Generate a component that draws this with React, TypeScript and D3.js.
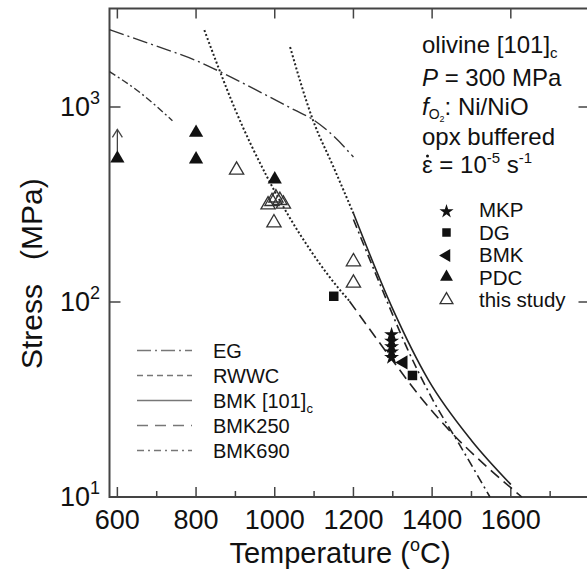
import React from 'react';
import * as d3 from 'd3';

// ---------- data ----------
const xTicks = [600, 800, 1000, 1200, 1400, 1600, 1800];
const xMinorTicks = [700, 900, 1100, 1300, 1500, 1700];
const yTicks = [10, 100, 1000];
const yTickExps = ['1', '2', '3'];

// curves: [temperature °C, stress MPa]
const egCurve: [number, number][] = [[580, 2490], [700, 2050], [800, 1730], [861, 1517], [950, 1230], [1050, 966], [1100, 855], [1150, 708], [1200, 554]];
const rwwcCurve: [number, number][] = [[580, 1520], [660, 1175], [740, 850]];
const bmkCExtrap: [number, number][] = [[1039, 2030], [1097, 858], [1149, 494], [1200, 285]];
const bmkCCurve: [number, number][] = [[1200, 285], [1300, 92], [1390, 40], [1500, 19.5], [1600, 11.6]];
const bmk250Extrap: [number, number][] = [[821, 2480], [861, 1517], [900, 965], [980, 440], [1090, 185], [1141, 133], [1190, 101]];
const bmk250Curve: [number, number][] = [[1190, 101], [1300, 50], [1370, 32.6], [1450, 21.3], [1539, 14.3], [1628, 10]];
const bmk690Curve: [number, number][] = [[1200, 265], [1270, 120], [1338, 57], [1402, 31.4], [1470, 18.5], [1547, 10]];

const mkpPoints: [number, number][] = [[1297, 68], [1297, 63], [1297, 59], [1297, 55.5], [1297, 52]];
const dgPoints: [number, number][] = [[1150, 107], [1350, 42]];
const bmkPoints: [number, number][] = [[1327, 49]];
const pdcPoints: [number, number][] = [[600, 545], [800, 738], [800, 539], [1000, 426]];
const studyPoints: [number, number][] = [[903, 475], [983, 315], [993, 328], [1003, 342], [1013, 332], [1022, 318], [998, 255], [1200, 161], [1200, 125]];

const infoLines = ['olivine [101]', 'P = 300 MPa', 'fO2: Ni/NiO', 'opx buffered', 'ε = 10-5 s-1'];
const markerLegend = ['MKP', 'DG', 'BMK', 'PDC', 'this study'];
const lineLegend = ['EG', 'RWWC', 'BMK [101]', 'BMK250', 'BMK690'];

// ---------- layout ----------
const W = 587, H = 573;
const FONT = '"Liberation Sans", Arial, Helvetica, sans-serif';
const INK = '#111';
const AX = '#444';

export default function App() {
  const x = d3.scaleLinear().domain([580, 1800]).range([109.5, 589.5]);
  const y = d3.scaleLog().domain([10, 3200]).range([497, 8.5]);
  const [x0, x1] = x.range();
  const [yb, yt] = y.range();

  const line = d3.line<[number, number]>()
    .x(d => x(d[0]))
    .y(d => y(d[1]))
    .curve(d3.curveMonotoneX);

  const sym = (type: d3.SymbolType, size: number) => d3.symbol().type(type).size(size)() as string;
  const tri = sym(d3.symbolTriangle, 88);
  const triSmall = sym(d3.symbolTriangle, 72);
  const sq = sym(d3.symbolSquare, 90);
  const sqSmall = sym(d3.symbolSquare, 72);
  const star = sym(d3.symbolStar, 70);
  const starSmall = sym(d3.symbolStar, 62);

  const curveStyles = [
    { data: egCurve, dash: '15,4,2,4', w: 1.4, color: '#333' },
    { data: rwwcCurve, dash: '7,3,2,3', w: 1.4, color: '#333' },
    { data: bmkCExtrap, dash: '2,2.2', w: 2, color: '#222' },
    { data: bmkCCurve, dash: null, w: 1.6, color: '#222' },
    { data: bmk250Extrap, dash: '2,2.2', w: 2, color: '#222' },
    { data: bmk250Curve, dash: '11,6', w: 1.6, color: '#222' },
    { data: bmk690Curve, dash: '9,4,2,4', w: 1.6, color: '#222' },
  ];

  const legendDash = ['14,4,2,4', '6,4', null, '11,7', '7,4,2,4'];
  const legendRowsY = [350.5, 375.5, 400.5, 425.5, 450.5];
  const mlegBase = [217, 239.5, 262, 284.5, 307];
  const mlegMark = [211.5, 232.5, 255.5, 277, 300];
  const infoY = [53, 86, 115, 145, 173];
  const IX = 422;

  return (
    <svg width={W} height={H} style={{ position: 'absolute', left: 0, top: 0, background: '#fff' }} fontFamily={FONT}>
      <rect x={0} y={0} width={W} height={H} fill="#fff" />
      {/* frame */}
      <rect x={x0} y={yt} width={x1 - x0} height={yb - yt} fill="none" stroke={AX} strokeWidth={2} />
      {/* x ticks */}
      {xTicks.map(t => (
        <g key={'xt' + t}>
          <line x1={x(t)} x2={x(t)} y1={yb} y2={yb - 10} stroke={AX} strokeWidth={1.5} />
          <line x1={x(t)} x2={x(t)} y1={yt} y2={yt + 10} stroke={AX} strokeWidth={1.5} />
        </g>
      ))}
      {xMinorTicks.map(t => (
        <line key={'xm' + t} x1={x(t)} x2={x(t)} y1={yb} y2={yb - 6} stroke={AX} strokeWidth={1.5} />
      ))}
      {xTicks.filter(t => t <= 1600).map(t => (
        <text key={'xl' + t} x={x(t)} y={yb + 32} textAnchor="middle" fontSize={27} fill={INK}>{t}</text>
      ))}
      {/* y ticks */}
      {yTicks.map((t, i) => (
        <g key={'yt' + t}>
          <line x1={x0} x2={x0 + 11} y1={y(t)} y2={y(t)} stroke={AX} strokeWidth={1.5} />
          <line x1={x1} x2={x1 - 11} y1={y(t)} y2={y(t)} stroke={AX} strokeWidth={1.5} />
          <text x={100} y={y(t) + 9} textAnchor="end" fontSize={27} fill={INK}>
            10<tspan dy={-12} fontSize={18}>{yTickExps[i]}</tspan>
          </text>
        </g>
      ))}
      {/* axis titles */}
      <text x={340} y={563} textAnchor="middle" fontSize={29} fill={INK}>
        Temperature (<tspan dy={-12} fontSize={18}>o</tspan><tspan dy={12}>C)</tspan>
      </text>
      <g transform="translate(42,272) rotate(-90)" fontSize={30} fill={INK}>
        <text x={-12} y={0} textAnchor="end">Stress</text>
        <text x={12} y={0} textAnchor="start">(MPa)</text>
      </g>

      {/* curves */}
      {curveStyles.map((c, i) => (
        <path key={'c' + i} d={line(c.data) as string} fill="none" stroke={c.color} strokeWidth={c.w}
          strokeDasharray={c.dash ?? undefined} />
      ))}

      {/* arrow on PDC 600 */}
      <g stroke="#444" strokeWidth={1.3} fill="none">
        <line x1={x(600)} x2={x(600)} y1={y(545) - 7} y2={y(545) - 29} />
        <polyline points={`${x(600) - 5},${y(545) - 21} ${x(600)},${y(545) - 29} ${x(600) + 5},${y(545) - 21}`} />
      </g>

      {/* markers */}
      {pdcPoints.map((p, i) => (
        <path key={'pdc' + i} d={tri} transform={`translate(${x(p[0])},${y(p[1])})`} fill={INK} />
      ))}
      {studyPoints.map((p, i) => (
        <path key={'st' + i} d={tri} transform={`translate(${x(p[0])},${y(p[1])})`} fill="none" stroke="#333" strokeWidth={1.3} />
      ))}
      {mkpPoints.map((p, i) => (
        <path key={'mkp' + i} d={star} transform={`translate(${x(p[0])},${y(p[1])})`} fill={INK} />
      ))}
      {dgPoints.map((p, i) => (
        <path key={'dg' + i} d={sq} transform={`translate(${x(p[0])},${y(p[1])})`} fill={INK} />
      ))}
      {bmkPoints.map((p, i) => (
        <path key={'bmk' + i} d={tri} transform={`translate(${x(p[0])},${y(p[1])}) rotate(-90)`} fill={INK} />
      ))}

      {/* info text */}
      <g fontSize={24} fill={INK}>
        <text x={IX} y={infoY[0]}>{infoLines[0]}<tspan dy={5} fontSize={15}>c</tspan></text>
        <text x={IX} y={infoY[1]}><tspan fontStyle="italic">P</tspan>{infoLines[1].slice(1)}</text>
        <text x={IX} y={infoY[2]}>
          <tspan fontStyle="italic">f</tspan><tspan dy={4} fontSize={14}>O</tspan><tspan dy={3} fontSize={9}>2</tspan><tspan dy={-7}>: Ni/NiO</tspan>
        </text>
        <text x={IX} y={infoY[3]}>{infoLines[3]}</text>
        <text x={IX} y={infoY[4]}>
          {infoLines[4].slice(0, 6)}<tspan dy={-10} fontSize={15}>-5</tspan><tspan dy={10}> s</tspan><tspan dy={-10} fontSize={15}>-1</tspan>
        </text>
        <circle cx={IX + 5.5} cy={infoY[4] - 17} r={1.5} />
      </g>

      {/* marker legend */}
      <g fill={INK}>
        <path d={starSmall} transform={`translate(446.5,${mlegMark[0]})`} />
        <path d={sqSmall} transform={`translate(446.5,${mlegMark[1]})`} />
        <path d={triSmall} transform={`translate(446.5,${mlegMark[2]}) rotate(-90)`} />
        <path d={triSmall} transform={`translate(446.5,${mlegMark[3]})`} />
        <path d={triSmall} transform={`translate(446.5,${mlegMark[4]})`} fill="none" stroke="#333" strokeWidth={1.3} />
        {markerLegend.map((t, i) => (
          <text key={'ml' + i} x={479} y={mlegBase[i]} fontSize={20.5}>{t}</text>
        ))}
      </g>

      {/* line legend */}
      {lineLegend.map((t, i) => (
        <g key={'ll' + i}>
          <line x1={137} x2={192} y1={legendRowsY[i]} y2={legendRowsY[i]} stroke="#777" strokeWidth={1.3}
            strokeDasharray={legendDash[i] ?? undefined} />
          <text x={213} y={legendRowsY[i] + 7} fontSize={20} fill={INK}>
            {t}{i === 2 ? <tspan dy={5} fontSize={13}>c</tspan> : null}
          </text>
        </g>
      ))}
    </svg>
  );
}
